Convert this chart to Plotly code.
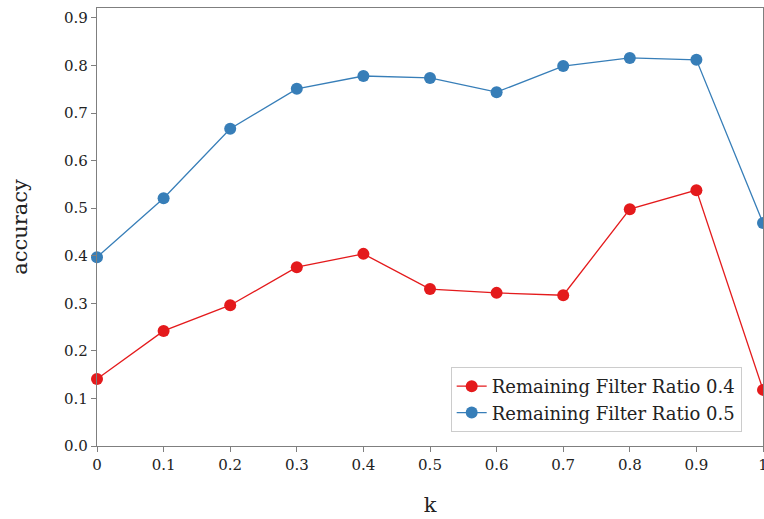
import plotly.graph_objects as go

# k values and accuracy per remaining filter ratio
k_values = [0.0, 0.1, 0.2, 0.3, 0.4, 0.5, 0.6, 0.7, 0.8, 0.9, 1.0]
acc_ratio_04 = [0.141, 0.242, 0.296, 0.376, 0.404, 0.330, 0.322, 0.317, 0.498, 0.538, 0.118]
acc_ratio_05 = [0.397, 0.521, 0.667, 0.751, 0.778, 0.774, 0.744, 0.799, 0.816, 0.812, 0.469]

x_tick_vals = [0.0, 0.1, 0.2, 0.3, 0.4, 0.5, 0.6, 0.7, 0.8, 0.9, 1.0]
x_tick_text = ["0", "0.1", "0.2", "0.3", "0.4", "0.5", "0.6", "0.7", "0.8", "0.9", "1"]
y_tick_vals = [0.0, 0.1, 0.2, 0.3, 0.4, 0.5, 0.6, 0.7, 0.8, 0.9]

RED = "#e41a1c"
BLUE = "#377eb8"
FONT = "DejaVu Serif"

fig = go.Figure()
fig.add_trace(go.Scatter(
    x=k_values, y=acc_ratio_04, mode="lines+markers",
    name="Remaining Filter Ratio 0.4",
    line=dict(color=RED, width=1.3),
    marker=dict(color=RED, size=12),
    cliponaxis=False,
))
fig.add_trace(go.Scatter(
    x=k_values, y=acc_ratio_05, mode="lines+markers",
    name="Remaining Filter Ratio 0.5",
    line=dict(color=BLUE, width=1.3),
    marker=dict(color=BLUE, size=12),
    cliponaxis=False,
))

axis_common = dict(
    showline=True, linecolor="#7f7f7f", linewidth=1.3, mirror=True,
    ticks="outside", ticklen=5, tickcolor="#7f7f7f", tickwidth=1.3,
    showgrid=False, zeroline=False, ticklabeloverflow="allow",
    automargin=False,
    tickfont=dict(family=FONT, size=15, color="#222222"),
)

fig.update_layout(
    width=764, height=519,
    margin=dict(l=97, r=1, t=8, b=73),
    paper_bgcolor="white", plot_bgcolor="white",
    font=dict(family=FONT, color="#222222"),
    xaxis=dict(
        range=[0, 1], tickvals=x_tick_vals, ticktext=x_tick_text,
        title=dict(text="k", font=dict(family=FONT, size=21), standoff=24),
        **axis_common,
    ),
    yaxis=dict(
        range=[0, 0.921], tickvals=y_tick_vals, tickformat=".1f",
        title=dict(text="accuracy", font=dict(family=FONT, size=21), standoff=30),
        **axis_common,
    ),
    legend=dict(
        x=0.968, y=0.032, xanchor="right", yanchor="bottom",
        bordercolor="#cccccc", borderwidth=1, bgcolor="white",
        font=dict(family=FONT, size=18, color="#222222"),
        tracegroupgap=0, itemwidth=30,
    ),
)

fig.write_html("out.html")
